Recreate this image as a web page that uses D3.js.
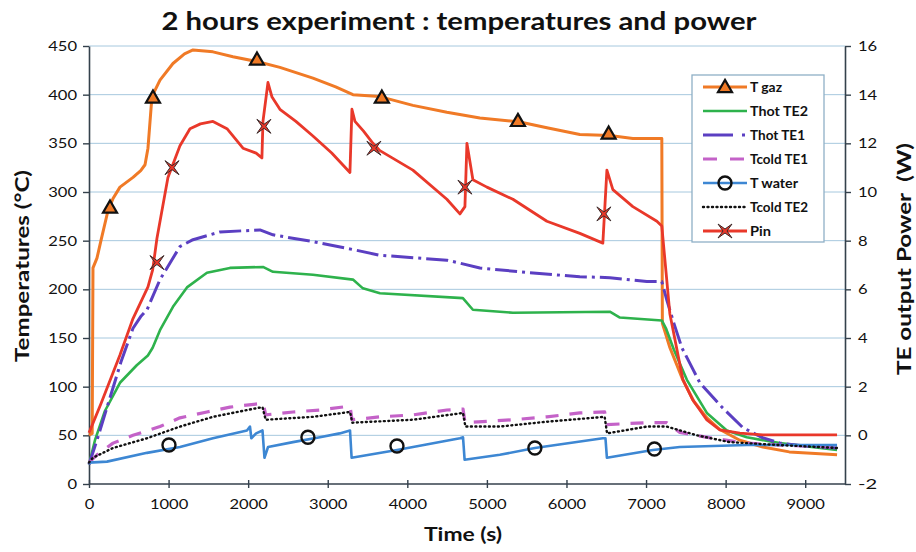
<!DOCTYPE html>
<html>
<head>
<meta charset="utf-8">
<script src="https://cdn.jsdelivr.net/npm/d3@7"></script>
<style>
  body { margin: 0; background: #fff; }
  text { font-family: Lato, "Open Sans", sans-serif; fill: #111; }
</style>
</head>
<body>
<div id="chart"></div>
<script>
// Series: [time (s), value]
const tGaz = [[0,50],[40,52],[50,222],[100,232],[150,250],[239,281],[300,293],[389,305],[553,315],[650,322],[704,328],[741,345],[791,398],[892,415],[1055,432],[1200,442],[1307,446],[1558,444],[1809,439],[2111,434],[2399,428],[2814,417],[3100,408],[3317,400],[3656,398],[4070,389],[4497,382],[4912,376],[5415,372],[5754,366],[6168,359],[6545,358],[6834,355],[7198,355],[7205,165],[7300,140],[7462,107],[7600,85],[7764,68],[7927,56],[8178,45],[8467,38],[8800,33],[9400,30]];
const thotTE2 = [[0,20],[75,45],[200,75],[389,104],[600,122],[740,132],[800,140],[892,158],[1055,182],[1231,202],[1482,217],[1771,222],[2186,223],[2312,218],[2814,215],[3317,210],[3442,201],[3656,196],[4698,191],[4824,179],[5327,176],[6545,177],[6671,171],[7198,168],[7250,160],[7350,138],[7513,107],[7764,73],[8015,55],[8266,48],[8681,42],[9400,35]];
const thotTE1 = [[0,20],[100,45],[250,85],[400,125],[553,160],[650,172],[729,179],[892,210],[1018,227],[1143,244],[1307,251],[1646,259],[2148,261],[2312,256],[2814,249],[3367,240],[3656,235],[4497,230],[4912,222],[5540,217],[6168,213],[6545,212],[7010,208],[7198,208],[7261,189],[7350,165],[7450,140],[7588,118],[7676,104],[7965,78],[8216,58],[8450,48],[8681,42],[9000,39],[9400,37]];
const tcoldTE1 = [[0,22],[100,30],[302,42],[553,50],[892,59],[1143,68],[1482,74],[1771,79],[2190,83],[2220,71],[2563,74],[2902,76],[3280,80],[3305,66],[3656,69],[4070,71],[4497,76],[4700,77],[4725,63],[5327,66],[5754,69],[6168,73],[6480,74],[6505,61],[7010,63],[7261,63],[7424,53],[7839,47],[8266,42],[8681,40],[9400,38]];
const tWater = [[0,22],[226,23],[729,32],[1143,38],[1558,47],[1985,55],[2023,59],[2040,47],[2100,52],[2180,55],[2205,27],[2250,38],[2563,43],[2902,48],[3150,52],[3280,55],[3300,27],[3870,35],[4661,47],[4700,48],[4720,25],[5163,30],[5603,37],[6457,47],[6490,47],[6508,27],[6583,28],[7086,35],[7424,38],[8266,40],[9400,40]];
const tcoldTE2 = [[0,22],[50,27],[302,37],[729,47],[1143,59],[1558,69],[1985,76],[2180,79],[2220,66],[2814,69],[3280,74],[3310,63],[4070,66],[4700,73],[4730,59],[5163,59],[5754,64],[6480,69],[6510,52],[7010,59],[7261,59],[7638,50],[8053,43],[8681,40],[9400,37]];
// Pin on the secondary axis (W)
const pin = [[0,0.1],[150,1.3],[389,3.3],[553,4.8],[741,6.1],[800,6.8],[854,8.1],[992,10.6],[1143,11.9],[1269,12.6],[1400,12.8],[1558,12.9],[1734,12.6],[1935,11.8],[2100,11.6],[2173,11.4],[2186,12.9],[2249,14.5],[2300,13.9],[2399,13.4],[2600,12.9],[2814,12.3],[3050,11.6],[3279,10.8],[3304,13.4],[3342,12.9],[3450,12.5],[3568,12.0],[3656,11.7],[4070,10.9],[4497,9.7],[4661,9.1],[4724,9.4],[4749,12.0],[4824,10.5],[5000,10.2],[5327,9.7],[5754,8.8],[6168,8.3],[6457,7.9],[6508,10.9],[6583,10.1],[6834,9.4],[7136,8.8],[7198,8.6],[7299,5.0],[7462,2.3],[7588,1.45],[7764,0.63],[7927,0.22],[8178,0.09],[8467,0.02],[9400,0.02]];

// marker points
const tGazMarks = [[264,284],[804,397],[2111,436],[3680,397],[5390,373],[6530,360]];
const tWaterMarks = [[1005,40],[2751,48],[3870,39],[5603,37],[7105,36]];
const pinMarks = [[854,7.1],[1043,11.0],[2198,12.7],[3580,11.8],[4724,10.2],[6470,9.1]];

const xTicks = d3.range(0, 9001, 1000);
const tempTicks = d3.range(0, 451, 50);
const powerTicks = d3.range(-2, 17, 2);
const legendNames = ["T gaz", "Thot TE2", "Thot TE1", "Tcold TE1", "T water", "Tcold TE2", "Pin"];

const width = 916, height = 552;
const plot = { left: 89, right: 845, top: 46, bottom: 484 };

const svg = d3.select("#chart").append("svg")
    .attr("width", width)
    .attr("height", height);

const x = d3.scaleLinear().domain([0, 9500]).range([plot.left, plot.right]);
const yT = d3.scaleLinear().domain([0, 450]).range([plot.bottom, plot.top]);
const yP = d3.scaleLinear().domain([-2, 16]).range([plot.bottom, plot.top]);

// gridlines
svg.append("g").selectAll("line").data(tempTicks.filter(d => d > 0)).join("line")
    .attr("x1", plot.left).attr("x2", plot.right)
    .attr("y1", d => yT(d)).attr("y2", d => yT(d))
    .attr("stroke", "#a6c8de").attr("stroke-width", 1);

// stretched labels, like the original
function stretch(sel, perChar) {
    sel.attr("textLength", function() { return this.textContent.length * perChar; })
       .attr("lengthAdjust", "spacingAndGlyphs");
}

const axisColor = "#34414c";

const gLeft = svg.append("g").attr("transform", `translate(${plot.left},0)`)
    .call(d3.axisLeft(yT).tickValues(tempTicks).tickSize(6).tickSizeOuter(0).tickPadding(6));
const gRight = svg.append("g").attr("transform", `translate(${plot.right},0)`)
    .call(d3.axisRight(yP).tickValues(powerTicks).tickSize(6).tickSizeOuter(0).tickPadding(7).tickFormat(d => String(d)));
const gBottom = svg.append("g").attr("transform", `translate(0,${plot.bottom})`)
    .call(d3.axisBottom(x).tickValues(xTicks).tickSize(4).tickSizeOuter(0).tickPadding(11).tickFormat(d => String(d)));
gBottom.selectAll(".tick line").attr("y1", -4);
gBottom.select(".domain").attr("d", `M${plot.left},0H${plot.right}`);

[gLeft, gRight, gBottom].forEach(g => {
    g.select(".domain").attr("stroke", axisColor).attr("stroke-width", 1.6);
    g.selectAll(".tick line").attr("stroke", axisColor).attr("stroke-width", 1.4);
    g.selectAll(".tick text").attr("font-size", 14).attr("fill", "#222")
        .style("font-family", "Lato, sans-serif").call(stretch, 9.6);
});

// lines
const lineT = d3.line().x(d => x(d[0])).y(d => yT(d[1]));
const lineP = d3.line().x(d => x(d[0])).y(d => yP(d[1]));

const series = [
    { data: tGaz, color: "#f07a26", w: 3, dash: null, line: lineT },
    { data: thotTE2, color: "#2eb24c", w: 2.6, dash: null, line: lineT },
    { data: thotTE1, color: "#5b3fc2", w: 3, dash: "22,5,3,5", line: lineT },
    { data: tcoldTE1, color: "#c462c8", w: 3.2, dash: "13,11", line: lineT },
    { data: tWater, color: "#3d87d3", w: 2.6, dash: null, line: lineT },
    { data: tcoldTE2, color: "#111", w: 2.4, dash: "1,3.5", line: lineT, cap: "round" },
    { data: pin, color: "#e9382a", w: 2.8, dash: null, line: lineP }
];

svg.append("g").selectAll("path").data(series).join("path")
    .attr("d", d => d.line(d.data))
    .attr("fill", "none")
    .attr("stroke", d => d.color)
    .attr("stroke-width", d => d.w)
    .attr("stroke-dasharray", d => d.dash)
    .attr("stroke-linecap", d => d.cap || "butt")
    .attr("stroke-linejoin", "round");

// markers
const tri = d3.symbol(d3.symbolTriangle).size(85);
const starPath = "M-7,-7L-2,0L-7,7L0,2L7,7L2,0L7,-7L0,-2Z";

function drawTri(g, px, py) {
    g.append("path").attr("d", tri()).attr("transform", `translate(${px},${py + 1})`)
        .attr("fill", "#f07a26").attr("stroke", "#111").attr("stroke-width", 2.2);
}
function drawCircle(g, px, py) {
    g.append("circle").attr("cx", px).attr("cy", py).attr("r", 6.5)
        .attr("fill", "none").attr("stroke", "#111").attr("stroke-width", 2.4);
}
function drawStar(g, px, py) {
    g.append("path").attr("d", starPath).attr("transform", `translate(${px},${py})`)
        .attr("fill", "#e9382a").attr("stroke", "#3a2a2a").attr("stroke-width", 1);
}

const gm = svg.append("g");
tGazMarks.forEach(d => drawTri(gm, x(d[0]), yT(d[1])));
tWaterMarks.forEach(d => drawCircle(gm, x(d[0]), yT(d[1])));
pinMarks.forEach(d => drawStar(gm, x(d[0]), yP(d[1])));

// legend
const lg = svg.append("g");
lg.append("rect").attr("x", 692).attr("y", 75).attr("width", 132).attr("height", 167)
    .attr("fill", "#fff").attr("stroke", "#8fb0c6").attr("stroke-width", 1.3);
const legendWidths = [32, 58, 55, 58, 48, 58, 21];
legendNames.forEach((name, i) => {
    const s = series[i];
    const cy = 87 + i * 24;
    if (s.dash === "22,5,3,5") {
        lg.append("line").attr("x1", 703).attr("x2", 733).attr("y1", cy).attr("y2", cy)
            .attr("stroke", s.color).attr("stroke-width", s.w);
        lg.append("line").attr("x1", 742).attr("x2", 745).attr("y1", cy).attr("y2", cy)
            .attr("stroke", s.color).attr("stroke-width", s.w);
    } else {
        lg.append("line").attr("x1", 703).attr("x2", 747).attr("y1", cy).attr("y2", cy)
            .attr("stroke", s.color).attr("stroke-width", s.w)
            .attr("stroke-dasharray", s.dash === "13,11" ? "14,13" : s.dash)
            .attr("stroke-linecap", s.cap || "butt");
    }
    if (i === 0) drawTri(lg, 725, cy);
    if (i === 4) drawCircle(lg, 725, cy);
    if (i === 6) drawStar(lg, 725, cy);
    lg.append("text").attr("x", 750).attr("y", cy + 4.5)
        .attr("font-size", 12.5).attr("font-weight", 700)
        .attr("textLength", legendWidths[i]).attr("lengthAdjust", "spacingAndGlyphs")
        .text(name);
});

// titles
svg.append("text").attr("x", 459).attr("y", 30).attr("text-anchor", "middle")
    .attr("font-size", 25).attr("font-weight", 700)
    .attr("textLength", 595).attr("lengthAdjust", "spacingAndGlyphs")
    .text("2 hours experiment : temperatures and power");

svg.append("text").attr("transform", "translate(29,266) rotate(-90)")
    .attr("text-anchor", "middle").attr("font-size", 19).attr("font-weight", 700)
    .attr("textLength", 192).attr("lengthAdjust", "spacingAndGlyphs")
    .text("Temperatures (°C)");

svg.append("text").attr("transform", "translate(911,259) rotate(-90)")
    .attr("text-anchor", "middle").attr("font-size", 19).attr("font-weight", 700)
    .attr("textLength", 232).attr("lengthAdjust", "spacingAndGlyphs")
    .style("white-space", "pre")
    .text("TE output Power  (W)");

svg.append("text").attr("x", 463).attr("y", 541).attr("text-anchor", "middle")
    .attr("font-size", 19).attr("font-weight", 700)
    .attr("textLength", 78).attr("lengthAdjust", "spacingAndGlyphs")
    .text("Time (s)");
</script>
</body>
</html>
